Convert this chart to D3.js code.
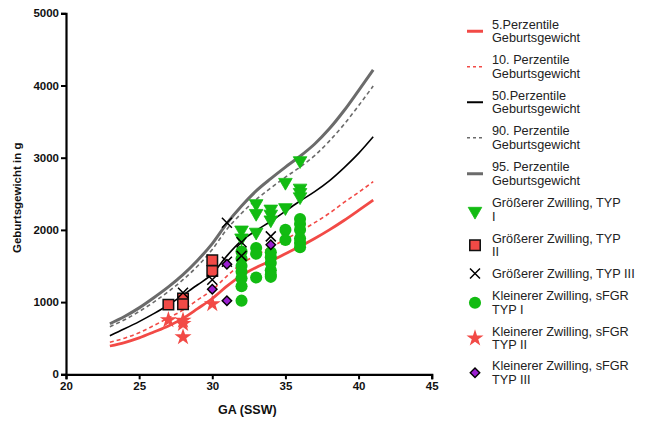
<!DOCTYPE html>
<html>
<head>
<meta charset="utf-8">
<script src="https://cdn.jsdelivr.net/npm/d3@7"></script>
<style>
  html, body { margin: 0; padding: 0; background: #fff; }
  svg { display: block; font-family: "Liberation Sans", Arial, Helvetica, sans-serif; }
</style>
</head>
<body>
<svg id="chart" width="649" height="421"></svg>
<script>
// Gestational weeks for the percentile curves
const weeks = [23, 24, 25, 26, 27, 28, 29, 30, 31, 32, 33, 34, 35, 36, 37, 38, 39, 40, 41];
const p5  = [392, 440, 505, 585, 670, 775, 910, 1050, 1220, 1370, 1480, 1570, 1670, 1770, 1880, 2000, 2130, 2270, 2414];
const p10 = [443, 500, 575, 675, 780, 890, 1030, 1170, 1360, 1530, 1650, 1760, 1870, 1980, 2100, 2230, 2380, 2520, 2668];
const p50 = [535, 630, 730, 840, 960, 1100, 1240, 1390, 1640, 1850, 1990, 2120, 2260, 2400, 2530, 2680, 2860, 3060, 3290];
const p90 = [659, 755, 870, 1000, 1145, 1310, 1500, 1730, 2010, 2230, 2420, 2580, 2730, 2870, 3030, 3230, 3460, 3720, 3993];
const p95 = [700, 800, 920, 1060, 1210, 1380, 1580, 1810, 2090, 2330, 2540, 2710, 2870, 3020, 3190, 3400, 3650, 3930, 4215];

// Individual twins: [week, weight]
const groesserTyp1 = [[32, 2020], [32, 1910], [33, 2385], [33, 2250], [33, 1990], [34, 2310], [34, 2240], [34, 2160],
                      [35, 2680], [35, 2330], [36, 2980], [36, 2600], [36, 2540], [36, 2480]];
const groesserTyp2 = [[27, 965], [28, 1050], [28, 970], [30, 1580], [30, 1430]];
const groesserTyp3 = [[28, 1130], [30, 1310], [31, 2100], [31, 1560], [32, 1830], [32, 1640], [34, 1910]];
const kleinerTyp1  = [[32, 1700], [32, 1600], [32, 1500], [32, 1420], [32, 1330], [32, 1220], [32, 1020],
                      [33, 1750], [33, 1670], [33, 1340],
                      [34, 1690], [34, 1620], [34, 1540], [34, 1440], [34, 1380], [34, 1350],
                      [35, 2000], [35, 1860],
                      [36, 2150], [36, 2080], [36, 2000], [36, 1880], [36, 1820], [36, 1760]];
const kleinerTyp2  = [[27, 752], [28, 745], [28, 700], [28, 515], [30, 975]];
const kleinerTyp3  = [[30, 1177], [31, 1525], [31, 1020], [34, 1795]];

const xTicks = [20, 25, 30, 35, 40, 45];
const yTicks = [0, 1000, 2000, 3000, 4000, 5000];

const RED = "#f24a46", GREEN = "#12bb12", PURPLE = "#9a1fd0", GREY = "#6b6b6b";

const svg = d3.select("#chart");
const x = d3.scaleLinear().domain([20, 45]).range([66, 431.7]);
const y = d3.scaleLinear().domain([0, 5000]).range([374.3, 13.3]);

// Axes
const xAxis = svg.append("g").attr("transform", `translate(0,${y(0)})`)
  .call(d3.axisBottom(x).tickValues(xTicks).tickSize(5).tickPadding(3).tickFormat(d3.format("d")));
const yAxis = svg.append("g").attr("transform", `translate(${x(20)},0)`)
  .call(d3.axisLeft(y).tickValues(yTicks).tickSize(5).tickPadding(2).tickFormat(d3.format("d")));
[xAxis, yAxis].forEach(g => {
  g.selectAll("path.domain").attr("stroke", "#000").attr("stroke-width", 2.2);
  g.selectAll(".tick line").attr("stroke", "#000").attr("stroke-width", 2);
  g.selectAll(".tick text").attr("fill", "#111").attr("font-size", 11.5).attr("font-weight", "bold")
    .attr("font-family", "'Liberation Sans', Arial, sans-serif");
});

svg.append("text").attr("x", x(32.4)).attr("y", 414).attr("text-anchor", "middle")
  .attr("font-size", 12.5).attr("font-weight", "bold").attr("fill", "#111").text("GA (SSW)");
svg.append("text").attr("transform", `translate(21,${y(2500) + 4}) rotate(-90)`).attr("text-anchor", "middle")
  .attr("font-size", 11.5).attr("font-weight", "bold").attr("fill", "#111").text("Geburtsgewicht in g");

// Percentile curves
const line = d3.line().x(d => x(d[0])).y(d => y(d[1])).curve(d3.curveMonotoneX);
const curves = [
  { vals: p95, color: GREY,  width: 3,   dash: null },
  { vals: p90, color: GREY,  width: 1.6, dash: "4,3" },
  { vals: p50, color: "#000", width: 1.6, dash: null },
  { vals: p10, color: RED,   width: 1.6, dash: "4,3" },
  { vals: p5,  color: RED,   width: 2.8, dash: null }
];
curves.forEach(c => {
  svg.append("path").datum(weeks.map((w, i) => [w, c.vals[i]]))
    .attr("d", line).attr("fill", "none").attr("stroke", c.color)
    .attr("stroke-width", c.width).attr("stroke-dasharray", c.dash);
});

// Marker shapes
const sym = {
  tri:     d3.symbol().type(d3.symbolTriangle).size(80),
  square:  d3.symbol().type(d3.symbolSquare).size(110),
  circle:  d3.symbol().type(d3.symbolCircle).size(115),
  star:    d3.symbol().type(d3.symbolStar).size(90)
};

function drawTri(g, cx, cy) {
  g.append("path").attr("d", sym.tri()).attr("transform", `translate(${cx},${cy + 1.5}) rotate(180)`)
    .attr("fill", GREEN).attr("stroke", GREEN).attr("stroke-width", 0.8);
}
function drawSquare(g, cx, cy) {
  g.append("path").attr("d", sym.square()).attr("transform", `translate(${cx},${cy})`)
    .attr("fill", RED).attr("stroke", "#111").attr("stroke-width", 1.5);
}
function drawX(g, cx, cy) {
  const s = 5;
  g.append("path").attr("d", `M${cx - s},${cy - s}L${cx + s},${cy + s}M${cx - s},${cy + s}L${cx + s},${cy - s}`)
    .attr("stroke", "#000").attr("stroke-width", 1.5).attr("fill", "none");
}
function drawCircle(g, cx, cy) {
  g.append("path").attr("d", sym.circle()).attr("transform", `translate(${cx},${cy})`).attr("fill", GREEN);
}
function drawStar(g, cx, cy) {
  g.append("path").attr("d", sym.star()).attr("transform", `translate(${cx},${cy})`).attr("fill", RED);
}
function drawDiamond(g, cx, cy) {
  g.append("path").attr("d", d3.symbol().type(d3.symbolSquare).size(45)()).attr("transform", `translate(${cx},${cy}) rotate(45)`)
    .attr("fill", PURPLE).attr("stroke", "#000").attr("stroke-width", 1.4);
}

const pts = svg.append("g");
kleinerTyp1.forEach(d => drawCircle(pts, x(d[0]), y(d[1])));
groesserTyp1.forEach(d => drawTri(pts, x(d[0]), y(d[1])));
kleinerTyp2.forEach(d => drawStar(pts, x(d[0]), y(d[1])));
groesserTyp2.forEach(d => drawSquare(pts, x(d[0]), y(d[1])));
groesserTyp3.forEach(d => drawX(pts, x(d[0]), y(d[1])));
kleinerTyp3.forEach(d => drawDiamond(pts, x(d[0]), y(d[1])));

// Legend
const legendItems = [
  { lines: ["5.Perzentile", "Geburtsgewicht"], kind: "line", color: RED, width: 3, dash: null },
  { lines: ["10. Perzentile", "Geburtsgewicht"], kind: "line", color: RED, width: 1.5, dash: "3,3" },
  { lines: ["50.Perzentile", "Geburtsgewicht"], kind: "line", color: "#000", width: 2, dash: null },
  { lines: ["90. Perzentile", "Geburtsgewicht"], kind: "line", color: GREY, width: 1.5, dash: "3,3" },
  { lines: ["95. Perzentile", "Geburtsgewicht"], kind: "line", color: GREY, width: 3, dash: null },
  { lines: ["Größerer Zwilling, TYP", "I"], kind: "tri" },
  { lines: ["Größerer Zwilling, TYP", "II"], kind: "square" },
  { lines: ["Größerer Zwilling, TYP III"], kind: "x" },
  { lines: ["Kleinerer Zwilling, sFGR", "TYP I"], kind: "circle" },
  { lines: ["Kleinerer Zwilling, sFGR", "TYP II"], kind: "star" },
  { lines: ["Kleinerer Zwilling, sFGR", "TYP III"], kind: "diamond" }
];
const legendTop = [24.5, 60, 95.5, 131, 167, 203, 238.5, 273.5, 296, 331.5, 366];
const lineGap = 13.5;
const lg = svg.append("g");
legendItems.forEach((it, i) => {
  const t = legendTop[i];
  const symY = it.lines.length === 2 ? t + lineGap / 2 : t;
  it.lines.forEach((s, j) => {
    lg.append("text").attr("x", 492).attr("y", t + j * lineGap).attr("dy", "0.35em")
      .attr("font-size", 12.7).attr("fill", "#222").text(s);
  });
  const sx = 475;
  if (it.kind === "line") {
    lg.append("line").attr("x1", 467).attr("x2", 483).attr("y1", symY).attr("y2", symY)
      .attr("stroke", it.color).attr("stroke-width", it.width).attr("stroke-dasharray", it.dash);
  } else if (it.kind === "tri") drawTri(lg, sx, symY);
  else if (it.kind === "square") drawSquare(lg, sx, symY);
  else if (it.kind === "x") drawX(lg, sx, symY);
  else if (it.kind === "circle") drawCircle(lg, sx, symY);
  else if (it.kind === "star") drawStar(lg, sx, symY);
  else if (it.kind === "diamond") drawDiamond(lg, sx, symY);
});
</script>
</body>
</html>
